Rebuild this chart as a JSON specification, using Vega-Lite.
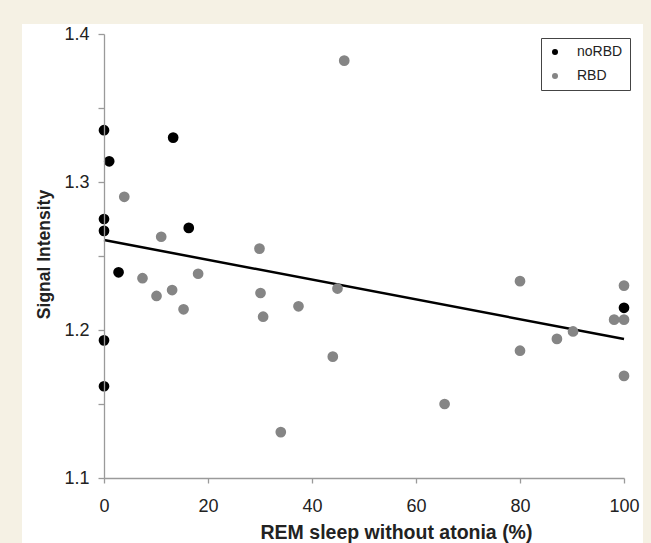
{
  "$schema": "https://vega.github.io/schema/vega-lite/v6.json",
  "width": 520,
  "height": 444,
  "autosize": {"type": "none"},
  "padding": {"left": 104, "top": 34, "right": 27, "bottom": 65},
  "background": "#f5f1e4",
  "config": {"font": "Liberation Sans", "view": {"stroke": null}},
  "datasets": {
    "points": [
      {"rem": 3.9, "si": 1.290, "group": "RBD"},
      {"rem": 11, "si": 1.263, "group": "RBD"},
      {"rem": 29.9, "si": 1.255, "group": "RBD"},
      {"rem": 7.4, "si": 1.235, "group": "RBD"},
      {"rem": 10.1, "si": 1.223, "group": "RBD"},
      {"rem": 13.1, "si": 1.227, "group": "RBD"},
      {"rem": 15.3, "si": 1.214, "group": "RBD"},
      {"rem": 18.1, "si": 1.238, "group": "RBD"},
      {"rem": 30.1, "si": 1.225, "group": "RBD"},
      {"rem": 30.6, "si": 1.209, "group": "RBD"},
      {"rem": 46.2, "si": 1.382, "group": "RBD"},
      {"rem": 37.4, "si": 1.216, "group": "RBD"},
      {"rem": 44.9, "si": 1.228, "group": "RBD"},
      {"rem": 44, "si": 1.182, "group": "RBD"},
      {"rem": 34, "si": 1.131, "group": "RBD"},
      {"rem": 65.5, "si": 1.150, "group": "RBD"},
      {"rem": 80, "si": 1.233, "group": "RBD"},
      {"rem": 80, "si": 1.186, "group": "RBD"},
      {"rem": 87.1, "si": 1.194, "group": "RBD"},
      {"rem": 90.2, "si": 1.199, "group": "RBD"},
      {"rem": 98.1, "si": 1.207, "group": "RBD"},
      {"rem": 100, "si": 1.207, "group": "RBD"},
      {"rem": 100, "si": 1.230, "group": "RBD"},
      {"rem": 100, "si": 1.169, "group": "RBD"},
      {"rem": 0, "si": 1.335, "group": "noRBD"},
      {"rem": 1, "si": 1.314, "group": "noRBD"},
      {"rem": 13.3, "si": 1.330, "group": "noRBD"},
      {"rem": 0, "si": 1.275, "group": "noRBD"},
      {"rem": 0, "si": 1.267, "group": "noRBD"},
      {"rem": 16.3, "si": 1.269, "group": "noRBD"},
      {"rem": 2.8, "si": 1.239, "group": "noRBD"},
      {"rem": 0, "si": 1.193, "group": "noRBD"},
      {"rem": 0, "si": 1.162, "group": "noRBD"},
      {"rem": 100, "si": 1.215, "group": "noRBD"}
    ],
    "fit": [
      {"rem": 0, "si": 1.2608},
      {"rem": 100, "si": 1.1939}
    ]
  },
  "layer": [
    {
      "data": {"values": [{}]},
      "mark": {"type": "rect", "fill": "white", "clip": false},
      "encoding": {
        "x": {"datum": -15.77, "type": "quantitative", "scale": {"domain": [0, 100], "nice": false, "zero": false}},
        "x2": {"datum": 103.65},
        "y": {"datum": 1.0561, "type": "quantitative", "scale": {"domain": [1.1, 1.4], "nice": false, "zero": false}},
        "y2": {"datum": 1.40676}
      }
    },
    {
      "data": {"name": "fit"},
      "mark": {"type": "line", "color": "black", "strokeWidth": 2.5},
      "encoding": {
        "x": {"field": "rem", "type": "quantitative", "scale": {"domain": [0, 100], "nice": false, "zero": false}},
        "y": {"field": "si", "type": "quantitative", "scale": {"domain": [1.1, 1.4], "nice": false, "zero": false}}
      }
    },
    {
      "data": {"name": "points"},
      "mark": {"type": "circle", "size": 115, "opacity": 1},
      "encoding": {
        "x": {
          "field": "rem", "type": "quantitative",
          "scale": {"domain": [0, 100], "nice": false, "zero": false},
          "axis": {
            "values": [0, 20, 40, 60, 80, 100],
            "grid": false, "zindex": 1,
            "domainColor": "#9a9a9a", "tickColor": "#9a9a9a", "domainWidth": 1.3, "tickWidth": 1.3,
            "tickSize": 5, "labelPadding": 14, "labelFontSize": 18, "labelColor": "#222",
            "labelFlush": false, "labelOverlap": false,
            "title": "REM sleep without atonia (%)", "titleFontSize": 19.5, "titleFontWeight": "bold", "titleColor": "#222",
            "titleX": 292, "titleY": 60, "titleAlign": "center", "titleBaseline": "alphabetic"
          }
        },
        "y": {
          "field": "si", "type": "quantitative",
          "scale": {"domain": [1.1, 1.4], "nice": false, "zero": false},
          "axis": {
            "values": [1.1, 1.15, 1.2, 1.25, 1.3, 1.35, 1.4],
            "labelExpr": "(round(datum.value*100) % 10 == 0) ? format(datum.value, '.1f') : ''",
            "grid": false, "zindex": 1,
            "domainColor": "#9a9a9a", "tickColor": "#9a9a9a", "domainWidth": 1.3, "tickWidth": 1.3,
            "tickSize": 6, "labelPadding": 9, "labelFontSize": 18, "labelColor": "#222",
            "labelFlush": false, "labelOverlap": false,
            "title": "Signal Intensity", "titleFontSize": 17.5, "titleFontWeight": "bold", "titleColor": "#222",
            "titleAngle": -90, "titleX": -55, "titleY": 220, "titleAlign": "center", "titleBaseline": "alphabetic"
          }
        },
        "color": {
          "field": "group", "type": "nominal",
          "scale": {"domain": ["noRBD", "RBD"], "range": ["#000000", "#858585"]},
          "legend": {
            "title": null, "orient": "none", "legendX": 437, "legendY": 4,
            "padding": 7, "strokeColor": "#444", "fillColor": "white",
            "symbolSize": 36, "symbolType": "circle", "symbolStrokeWidth": 0,
            "labelFontSize": 14, "labelColor": "#222", "labelOffset": 15, "rowPadding": 10
          }
        }
      }
    }
  ]
}
